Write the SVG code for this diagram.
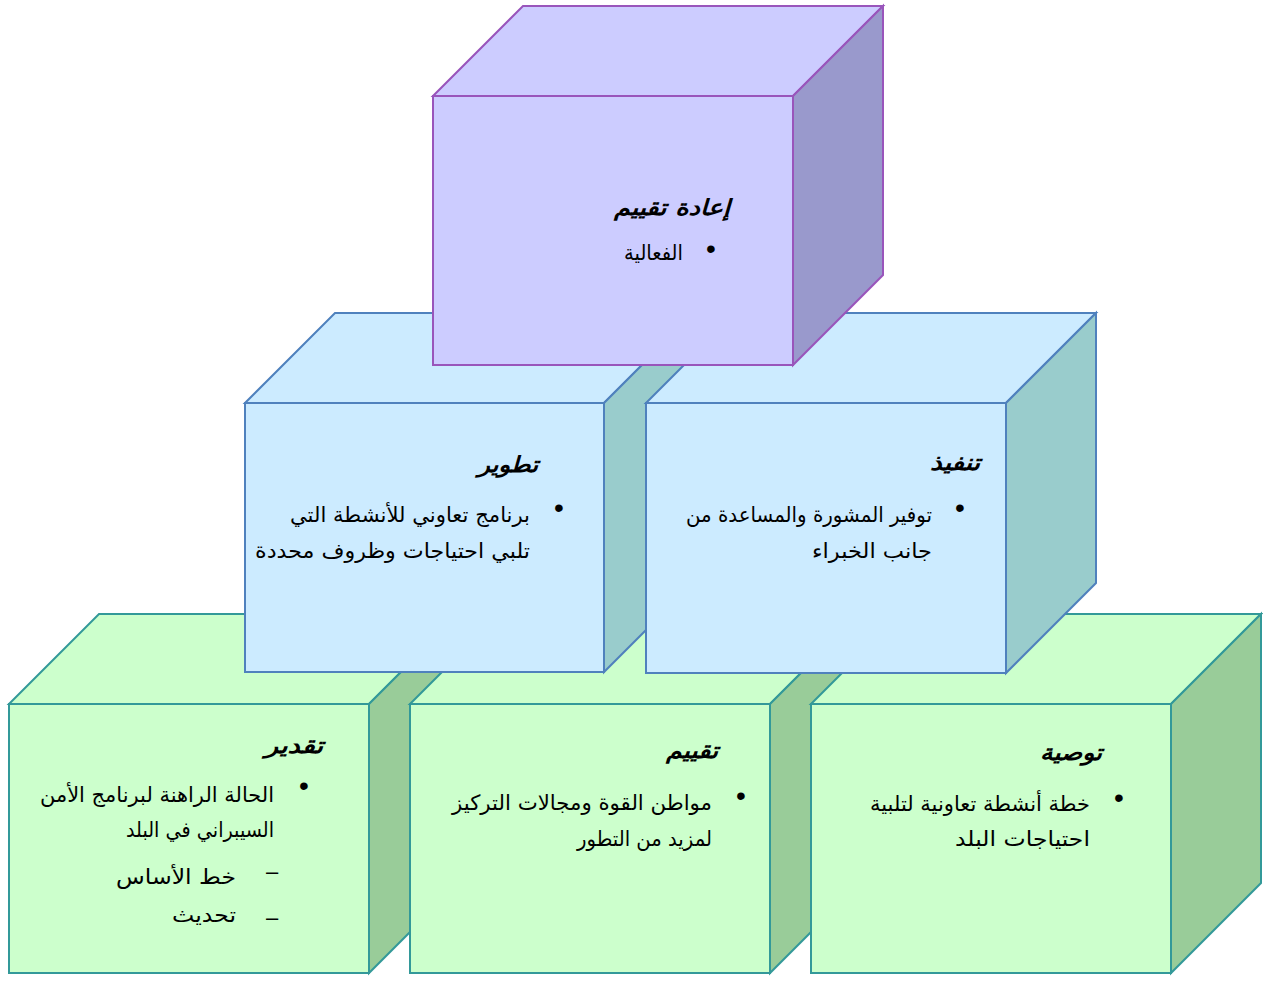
<svg xmlns="http://www.w3.org/2000/svg" width="1263" height="981" viewBox="0 0 1263 981">
<style>
.g .f,.g .t{fill:#CCFFCC}.g .r{fill:#99CC99}.g polygon{stroke:#339999}
.b .f,.b .t{fill:#CCEBFF}.b .r{fill:#99CCCC}.b polygon{stroke:#4F81BD}
.p .f,.p .t{fill:#CCCCFF}.p .r{fill:#9999CC}.p polygon{stroke:#9955BB}
polygon{stroke-width:2;stroke-linejoin:miter}
text{font-family:"DejaVu Sans",sans-serif;fill:#000}
.h{font-size:22px;font-weight:bold;font-style:italic}
.x{font-size:21px}
.u{font-family:"Liberation Sans",sans-serif;font-size:28px}
.d{font-family:"Liberation Sans",sans-serif;font-size:22px}
</style>
<rect width="1263" height="981" fill="#fff"/>
<g id="cube-taqdir" class="g">
<polygon class="t" points="9,704 99,614 459,614 369,704"/>
<polygon class="r" points="369,704 459,614 459,883 369,973"/>
<polygon class="f" points="9,704 369,704 369,973 9,973"/>
<text class="h" x="323" y="753" text-anchor="end" textLength="58" lengthAdjust="spacingAndGlyphs">تقدير</text>
<text class="u" x="304" y="795" text-anchor="middle">•</text>
<text class="x" x="274" y="802" text-anchor="end" textLength="234" lengthAdjust="spacingAndGlyphs">الحالة الراهنة لبرنامج الأمن</text>
<text class="x" x="274" y="837" text-anchor="end" textLength="148" lengthAdjust="spacingAndGlyphs">السيبراني في البلد</text>
<text class="d" x="272" y="879" text-anchor="middle">–</text>
<text class="x" x="236" y="884" text-anchor="end" textLength="120" lengthAdjust="spacingAndGlyphs">خط الأساس</text>
<text class="d" x="272" y="925" text-anchor="middle">–</text>
<text class="x" x="236" y="922" text-anchor="end" textLength="64" lengthAdjust="spacingAndGlyphs">تحديث</text>
</g>
<g id="cube-taqyim" class="g">
<polygon class="t" points="410,704 500,614 860,614 770,704"/>
<polygon class="r" points="770,704 860,614 860,883 770,973"/>
<polygon class="f" points="410,704 770,704 770,973 410,973"/>
<text class="h" x="718" y="758" text-anchor="end" textLength="52" lengthAdjust="spacingAndGlyphs">تقييم</text>
<text class="u" x="741" y="805" text-anchor="middle">•</text>
<text class="x" x="712" y="810" text-anchor="end" textLength="260" lengthAdjust="spacingAndGlyphs">مواطن القوة ومجالات التركيز</text>
<text class="x" x="712" y="846" text-anchor="end" textLength="135" lengthAdjust="spacingAndGlyphs">لمزيد من التطور</text>
</g>
<g id="cube-tawsiya" class="g">
<polygon class="t" points="811,704 901,614 1261,614 1171,704"/>
<polygon class="r" points="1171,704 1261,614 1261,883 1171,973"/>
<polygon class="f" points="811,704 1171,704 1171,973 811,973"/>
<text class="h" x="1102" y="760" text-anchor="end" textLength="62" lengthAdjust="spacingAndGlyphs">توصية</text>
<text class="u" x="1119" y="807" text-anchor="middle">•</text>
<text class="x" x="1090" y="811" text-anchor="end" textLength="220" lengthAdjust="spacingAndGlyphs">خطة أنشطة تعاونية لتلبية</text>
<text class="x" x="1090" y="846" text-anchor="end" textLength="135" lengthAdjust="spacingAndGlyphs">احتياجات البلد</text>
</g>
<g id="cube-tatwir" class="b">
<polygon class="t" points="245,403 335,313 694,313 604,403"/>
<polygon class="r" points="604,403 694,313 694,582 604,672"/>
<polygon class="f" points="245,403 604,403 604,672 245,672"/>
<text class="h" x="538" y="472" text-anchor="end" textLength="60" lengthAdjust="spacingAndGlyphs">تطوير</text>
<text class="u" x="559" y="517" text-anchor="middle">•</text>
<text class="x" x="530" y="522" text-anchor="end" textLength="240" lengthAdjust="spacingAndGlyphs">برنامج تعاوني للأنشطة التي</text>
<text class="x" x="530" y="558" text-anchor="end" textLength="275" lengthAdjust="spacingAndGlyphs">تلبي احتياجات وظروف محددة</text>
</g>
<g id="cube-tanfidh" class="b">
<polygon class="t" points="646,403 736,313 1096,313 1006,403"/>
<polygon class="r" points="1006,403 1096,313 1096,583 1006,673"/>
<polygon class="f" points="646,403 1006,403 1006,673 646,673"/>
<text class="h" x="980" y="470" text-anchor="end" textLength="50" lengthAdjust="spacingAndGlyphs">تنفيذ</text>
<text class="u" x="960" y="517" text-anchor="middle">•</text>
<text class="x" x="932" y="522" text-anchor="end" textLength="246" lengthAdjust="spacingAndGlyphs">توفير المشورة والمساعدة من</text>
<text class="x" x="932" y="558" text-anchor="end" textLength="120" lengthAdjust="spacingAndGlyphs">جانب الخبراء</text>
</g>
<g id="cube-iadat-taqyim" class="p">
<polygon class="t" points="433,96 523,6 883,6 793,96"/>
<polygon class="r" points="793,96 883,6 883,275 793,365"/>
<polygon class="f" points="433,96 793,96 793,365 433,365"/>
<text class="h" x="730" y="215" text-anchor="end" textLength="116" lengthAdjust="spacingAndGlyphs">إعادة تقييم</text>
<text class="u" x="711" y="258" text-anchor="middle">•</text>
<text class="x" x="683" y="260" text-anchor="end" textLength="59" lengthAdjust="spacingAndGlyphs">الفعالية</text>
</g>
<g id="connectors"/>
</svg>
